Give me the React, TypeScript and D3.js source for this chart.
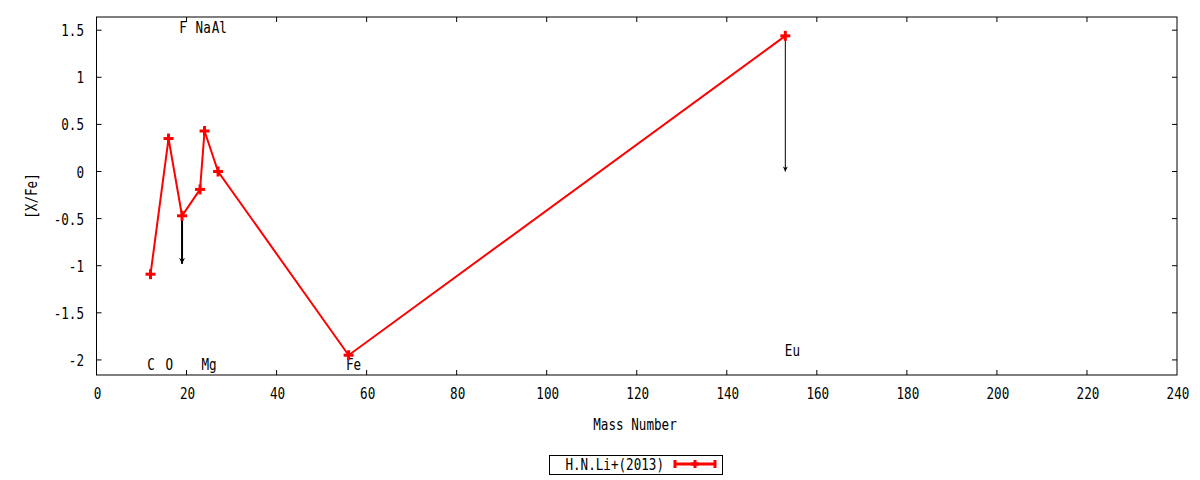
import * as d3 from 'd3';

const elements = ['C', 'O', 'F', 'Na', 'Mg', 'Al', 'Fe', 'Eu'];
const massNumbers = [12, 16, 19, 23, 24, 27, 56, 153];
const xFe = [-1.09, 0.35, -0.47, -0.19, 0.43, 0.0, -1.95, 1.44];

// upper limits: element, value the arrow points to
const limitElements = ['F', 'Eu'];
const limitTo = [-0.98, 0.0];

// element labels drawn on the plot (left edge position, y value)
const labelTexts = ['C', 'O', 'Mg', 'F', 'Na', 'Al', 'Fe', 'Eu'];
const labelX = [11.3, 15.3, 23.3, 18.4, 22.0, 25.6, 55.4, 152.9];
const labelY = [-2.04, -2.04, -2.04, 1.53, 1.53, 1.53, -2.04, -1.89];

const xTicks = [0, 20, 40, 60, 80, 100, 120, 140, 160, 180, 200, 220, 240];
const yTicks = [-2, -1.5, -1, -0.5, 0, 0.5, 1, 1.5];
const seriesName = 'H.N.Li+(2013)';

const W = 1200;
const H = 480;
const M = { left: 96.5, right: 1177, top: 17, bottom: 375 };
const FONT = "'DejaVu Sans Mono', monospace";

// gnuplot-like tall narrow glyphs
const T = ({ x, y, anchor = 'start', rotate = 0, children }: { x: number; y: number; anchor?: string; rotate?: number; children: any }) => (
  <text transform={`translate(${x},${y}) rotate(${rotate}) scale(0.97,1.28)`} textAnchor={anchor}>{children}</text>
);

const Plus = ({ x, y, s = 5, w = 3 }: { x: number; y: number; s?: number; w?: number }) => (
  <g stroke="#ff0000" strokeWidth={w}>
    <line x1={x - s} y1={y} x2={x + s} y2={y} />
    <line x1={x} y1={y - s} x2={x} y2={y + s} />
  </g>
);

const App = () => {
  const x = d3.scaleLinear().domain([0, 240]).range([M.left, M.right]);
  const y = d3.scaleLinear().domain([-2.16, 1.64]).range([M.bottom, M.top]);
  const pts = massNumbers.map((m, i) => [x(m), y(xFe[i])] as [number, number]);
  const line = d3.line();
  const fmt = (v: number) => String(v);

  return (
    <svg width={W} height={H} style={{ position: 'absolute', left: 0, top: 0, background: '#fff' }} fontFamily={FONT} fontSize={13}>
      <defs>
        <marker id="ah2" viewBox="0 0 10 10" refX="10" refY="5" markerWidth="3" markerHeight="4" orient="auto">
          <path d="M0,0 L10,5 L0,10 L3,5 z" fill="#000" />
        </marker>
        <marker id="ah1" viewBox="0 0 10 10" refX="10" refY="5" markerWidth="6" markerHeight="5" orient="auto">
          <path d="M0,0 L10,5 L0,10 L3,5 z" fill="#000" />
        </marker>
      </defs>
      {xTicks.map(t => (
        <g key={'x' + t}>
          {t > 0 && t < 240 && (
            <>
              <line x1={x(t)} x2={x(t)} y1={M.bottom} y2={M.bottom - 5} stroke="#000" />
              <line x1={x(t)} x2={x(t)} y1={M.top} y2={M.top + 5} stroke="#000" />
            </>
          )}
          <T x={x(t) + 1} y={M.bottom + 24} anchor="middle">{fmt(t)}</T>
        </g>
      ))}
      {yTicks.map(t => (
        <g key={'y' + t}>
          <line x1={M.left} x2={M.left + 5} y1={y(t)} y2={y(t)} stroke="#000" />
          <line x1={M.right} x2={M.right - 5} y1={y(t)} y2={y(t)} stroke="#000" />
          <T x={84} y={y(t) + 6} anchor="end">{fmt(t)}</T>
        </g>
      ))}
      <rect x={M.left} y={M.top} width={M.right - M.left} height={M.bottom - M.top} fill="none" stroke="#000" />
      {labelTexts.map((t, i) => (
        <T key={'l' + i} x={x(labelX[i])} y={y(labelY[i]) + 6}>{t}</T>
      ))}
      <path d={line(pts) ?? ''} fill="none" stroke="#ff0000" strokeWidth={2} />
      {limitElements.map((el, i) => {
        const k = elements.indexOf(el);
        return (
          <line key={'a' + el} x1={x(massNumbers[k])} x2={x(massNumbers[k])} y1={y(xFe[k])} y2={y(limitTo[i])}
            stroke="#000" strokeWidth={i === 0 ? 2 : 1} markerEnd={i === 0 ? 'url(#ah2)' : 'url(#ah1)'} />
        );
      })}
      {pts.map((p, i) => <Plus key={'p' + i} x={p[0]} y={p[1]} />)}
      <T x={635} y={430} anchor="middle">Mass Number</T>
      <T x={37} y={196} anchor="middle" rotate={-90}>[X/Fe]</T>
      <rect x={549.5} y={455.5} width={173} height={19} fill="none" stroke="#000" />
      <T x={664} y={470} anchor="end">{seriesName}</T>
      <g stroke="#ff0000" strokeWidth={3}>
        <line x1={674} x2={716} y1={464} y2={464} />
        <line x1={675} x2={675} y1={460} y2={468} />
        <line x1={715} x2={715} y1={460} y2={468} />
      </g>
      <Plus x={695} y={464} s={4} w={3} />
    </svg>
  );
};

export default App;
